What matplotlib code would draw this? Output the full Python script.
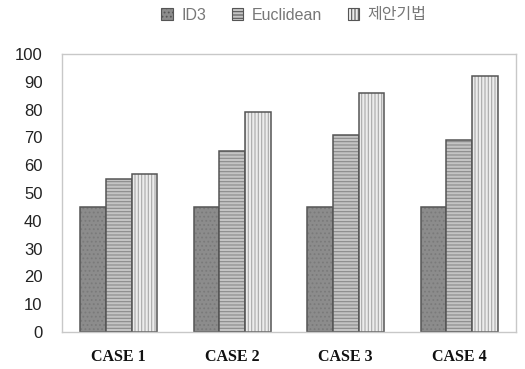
import matplotlib
matplotlib.use("Agg")
import matplotlib.pyplot as plt
import numpy as np
from matplotlib.patches import Patch

plt.rcParams['font.family'] = ['Liberation Sans', 'Noto Sans CJK KR', 'DejaVu Sans']
plt.rcParams['hatch.linewidth'] = 0.8

categories = ["CASE 1", "CASE 2", "CASE 3", "CASE 4"]
series_names = ["ID3", "Euclidean", "제안기법"]
id3 = [45, 45, 45, 45]
euclidean = [55, 65, 71, 69]
proposed = [57, 79, 86, 92]
yticks = [0, 10, 20, 30, 40, 50, 60, 70, 80, 90, 100]

fig = plt.figure(figsize=(5.25, 3.69), dpi=100)
ax = fig.add_axes([62/525, 1-332/369, (516-62)/525, (332-54)/369])

x = np.arange(len(categories))
w = 0.225
styles = [
    dict(fc="#8c8c8c", hatch="....", hc="#7a7a7a"),
    dict(fc="#c4c4c4", hatch="-----", hc="#8a8a8a"),
    dict(fc="#ececec", hatch="|||||", hc="#a8a8a8"),
]
data = [id3, euclidean, proposed]
for i, (vals, st) in enumerate(zip(data, styles)):
    pos = x + (i - 1) * w
    ax.bar(pos, vals, w, color=st["fc"], hatch=st["hatch"], edgecolor=st["hc"], linewidth=0)
    ax.bar(pos, vals, w, fill=False, edgecolor="#555555", linewidth=1.1)

ax.set_xlim(-0.5, 3.5)
ax.set_ylim(0, 100)
ax.set_yticks(yticks)
ax.set_xticks(x)
ax.set_xticklabels(categories, fontfamily="Liberation Serif", fontweight="bold", fontsize=11.5)
ax.tick_params(axis="y", length=0, labelsize=12, pad=14, colors="#222222")
ax.tick_params(axis="x", length=0, pad=12, colors="#111111")
for s in ax.spines.values():
    s.set_color("#c8c8c8")
    s.set_linewidth(1.0)

handles = [Patch(facecolor=st["fc"], hatch=st["hatch"], edgecolor="#555555", linewidth=0.8) for st in styles]
leg = fig.legend(handles, series_names, loc="center", bbox_to_anchor=(294/525, 1-15/369),
                 ncol=3, frameon=False, fontsize=11.5, handlelength=0.7, handleheight=0.7,
                 handletextpad=0.55, columnspacing=1.6, labelcolor="#777777")

fig.savefig("out.png", dpi=100)
